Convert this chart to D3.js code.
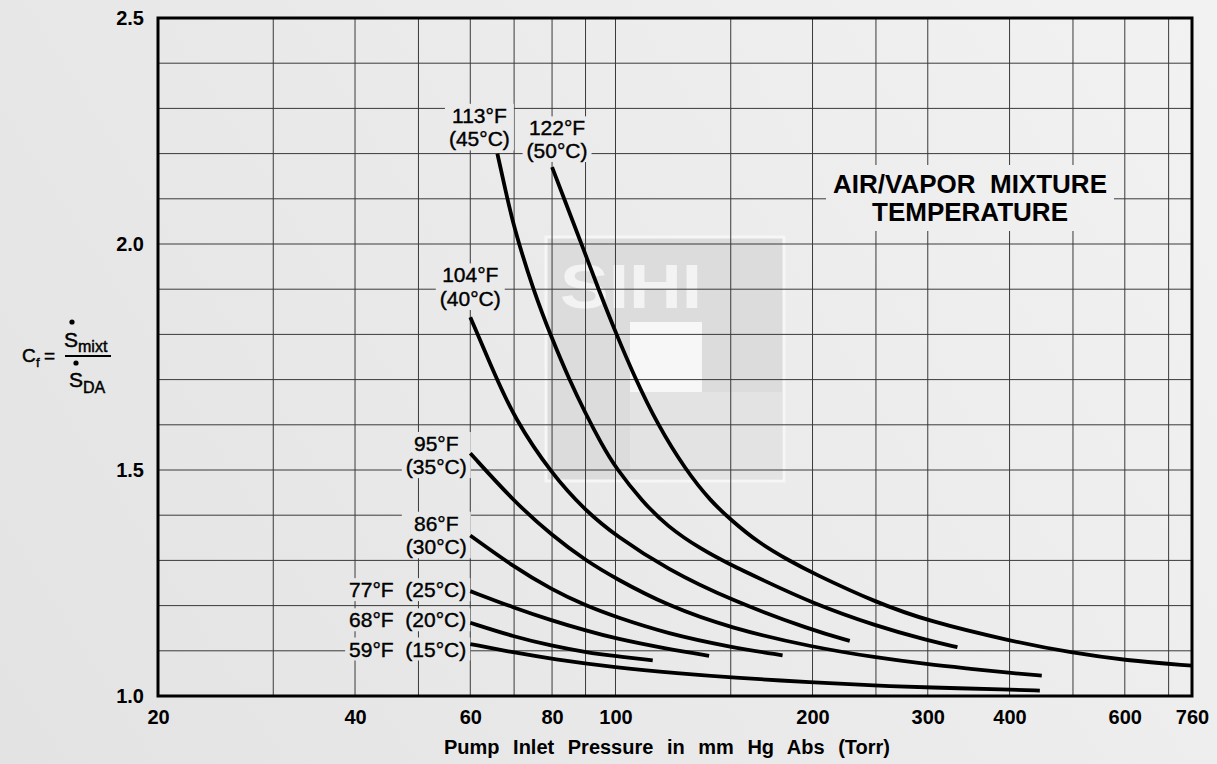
<!DOCTYPE html>
<html>
<head>
<meta charset="utf-8">
<script src="https://cdn.jsdelivr.net/npm/d3@7"></script>
<style>
  html, body { margin: 0; padding: 0; background: #eaeaea; }
  svg { display: block; font-family: "Liberation Sans", Arial, Helvetica, sans-serif; }
</style>
</head>
<body>
<svg id="chart" width="1217" height="764"></svg>
<script>
// pump inlet pressure (torr) and Cf, one pair of arrays per temperature
var p59 = [60, 70, 80, 100, 125, 150, 200, 250, 300, 400, 445];
var c59 = [1.115, 1.096, 1.082, 1.063, 1.050, 1.041, 1.030, 1.023, 1.019, 1.014, 1.012];
var p68 = [60, 70, 80, 90, 100, 114];
var c68 = [1.162, 1.131, 1.111, 1.097, 1.088, 1.079];
var p77 = [60, 70, 80, 90, 100, 120, 139];
var c77 = [1.232, 1.195, 1.167, 1.145, 1.127, 1.104, 1.089];
var p86 = [60, 70, 80, 90, 100, 120, 150, 180];
var c86 = [1.355, 1.285, 1.235, 1.200, 1.175, 1.138, 1.108, 1.090];
var p95 = [60, 70, 80, 90, 100, 120, 150, 200, 250, 300, 350, 400, 448];
var c95 = [1.537, 1.430, 1.355, 1.300, 1.260, 1.200, 1.150, 1.108, 1.085, 1.070, 1.060, 1.051, 1.045];
var p104 = [60, 65, 70, 80, 90, 100, 120, 150, 200, 228];
var c104 = [1.838, 1.720, 1.615, 1.490, 1.410, 1.355, 1.280, 1.212, 1.145, 1.122];
var p113 = [66, 68, 70, 75, 80, 85, 90, 95, 100, 110, 120, 135, 150, 166, 200, 250, 300, 333];
var c113 = [2.20, 2.115, 2.035, 1.895, 1.79, 1.70, 1.625, 1.56, 1.505, 1.43, 1.375, 1.325, 1.29, 1.26, 1.205, 1.155, 1.123, 1.108];
var p122 = [80, 84, 89, 94.5, 100, 107, 116, 128, 140, 150, 165, 184, 200, 250, 300, 400, 500, 600, 760];
var c122 = [2.17, 2.09, 1.995, 1.895, 1.805, 1.705, 1.60, 1.50, 1.43, 1.39, 1.34, 1.30, 1.272, 1.207, 1.166, 1.122, 1.095, 1.079, 1.067];

var tempF = [59, 68, 77, 86, 95, 104, 113, 122];
var tempC = [15, 20, 25, 30, 35, 40, 45, 50];

var xTicks = [20, 40, 60, 80, 100, 200, 300, 400, 600, 760];
var xGrid = [30, 40, 50, 60, 70, 80, 90, 100, 150, 200, 250, 300, 400, 500, 600, 700];
var yTicks = [1.0, 1.5, 2.0, 2.5];
var yGrid = [1.1, 1.2, 1.3, 1.4, 1.5, 1.6, 1.7, 1.8, 1.9, 2.0, 2.1, 2.2, 2.3, 2.4];

var series = [
  [p59, c59], [p68, c68], [p77, c77], [p86, c86],
  [p95, c95], [p104, c104], [p113, c113], [p122, c122]
];

var svg = d3.select("#chart");

var x = d3.scaleLog().domain([20, 760]).range([158, 1192]);
var y = d3.scaleLinear().domain([1.0, 2.5]).range([696, 18]);

// background, light grey like the scanned sheet
var defs = svg.append("defs");
var grad = defs.append("linearGradient")
    .attr("id", "bg")
    .attr("gradientUnits", "userSpaceOnUse")
    .attr("x1", 0).attr("y1", 764).attr("x2", 1217).attr("y2", 0);
grad.append("stop").attr("offset", "0%").attr("stop-color", "#e3e3e3");
grad.append("stop").attr("offset", "55%").attr("stop-color", "#ebebeb");
grad.append("stop").attr("offset", "100%").attr("stop-color", "#f2f2f2");

svg.append("rect").attr("width", 1217).attr("height", 764).attr("fill", "url(#bg)");

// faint logo behind the grid
var logo = svg.append("g").attr("class", "logo");
logo.append("rect").attr("x", 546).attr("y", 237).attr("width", 238).attr("height", 244)
    .attr("fill", "#dcdcdc").attr("stroke", "#f6f6f6").attr("stroke-width", 3);
logo.append("rect").attr("x", 630).attr("y", 392).attr("width", 152).attr("height", 87)
    .attr("fill", "#e3e3e3");
logo.append("rect").attr("x", 630).attr("y", 322).attr("width", 72).attr("height", 70)
    .attr("fill", "#f7f7f7");
logo.append("text").attr("x", 560).attr("y", 308)
    .attr("font-size", 63).attr("font-weight", "bold")
    .attr("textLength", 142).attr("lengthAdjust", "spacingAndGlyphs")
    .attr("fill", "#f3f3f3").text("SIHI");

// grid
var grid = svg.append("g").attr("class", "grid")
    .attr("stroke", "#3a3a3a").attr("stroke-width", 1);
grid.selectAll(".vx").data(xGrid).enter().append("line")
    .attr("class", "vx")
    .attr("x1", function(d) { return x(d); }).attr("x2", function(d) { return x(d); })
    .attr("y1", y(2.5)).attr("y2", y(1.0));
grid.selectAll(".hy").data(yGrid).enter().append("line")
    .attr("class", "hy")
    .attr("x1", x(20)).attr("x2", x(760))
    .attr("y1", function(d) { return y(d); }).attr("y2", function(d) { return y(d); });

// curve labels, placed relative to the first point of each curve
var labelLayout = [
  { mode: "row", dx: -4, dy: [12.5] },
  { mode: "row", dx: -4, dy: [4.5] },
  { mode: "row", dx: -4, dy: [6] },
  { mode: "stack", dx: -34, dy: [-4.8, 18.8] },
  { mode: "stack", dx: -34, dy: [-2.3, 20.8] },
  { mode: "stack", dx: 0, dy: [-34.8, -11.2] },
  { mode: "stack", dx: -18, dy: [-30.8, -7.2] },
  { mode: "stack", dx: 5, dy: [-31.8, -9.2] }
];

var labelBg = svg.append("g").attr("class", "label-bg");
var labels = svg.append("g").attr("class", "labels")
    .attr("font-size", 21).attr("fill", "#000")
    .attr("stroke", "#000").attr("stroke-width", 0.4);

series.forEach(function(s, i) {
  var sx = x(s[0][0]), sy = y(s[1][0]);
  var L = labelLayout[i];
  var fTxt = tempF[i] + "°F", cTxt = "(" + tempC[i] + "°C)";
  var t = labels.append("text").attr("xml:space", "preserve");
  if (L.mode === "row") {
    t.attr("x", sx + L.dx).attr("y", sy + L.dy[0])
        .attr("text-anchor", "end").text(fTxt + "  " + cTxt);
  } else {
    t.attr("text-anchor", "middle");
    t.append("tspan").attr("x", sx + L.dx).attr("y", sy + L.dy[0]).text(fTxt);
    t.append("tspan").attr("x", sx + L.dx).attr("y", sy + L.dy[1]).text(cTxt);
  }
  var b = t.node().getBBox();
  labelBg.append("rect")
      .attr("x", b.x - 4).attr("y", b.y)
      .attr("width", b.width + 8).attr("height", b.height)
      .attr("fill", "url(#bg)");
});

// chart title box
var title = svg.append("text").attr("class", "title")
    .attr("font-size", 26).attr("font-weight", "bold")
    .attr("text-anchor", "middle").attr("xml:space", "preserve");
title.append("tspan").attr("x", 970).attr("y", 193).text("AIR/VAPOR  MIXTURE");
title.append("tspan").attr("x", 970).attr("y", 221).text("TEMPERATURE");
var tb = title.node().getBBox();
svg.insert("rect", ".title")
    .attr("x", tb.x - 7).attr("y", tb.y - 4)
    .attr("width", tb.width + 14).attr("height", tb.height + 8)
    .attr("fill", "url(#bg)");

// curves
var line = d3.line()
    .x(function(d) { return x(d[0]); })
    .y(function(d) { return y(d[1]); })
    .curve(d3.curveBasis);

svg.append("g").attr("class", "curves")
  .selectAll("path")
  .data(series.map(function(s) { return d3.zip(s[0], s[1]); }))
  .enter().append("path")
    .attr("d", line)
    .attr("fill", "none")
    .attr("stroke", "#000")
    .attr("stroke-width", 3.8)
    .attr("stroke-linecap", "butt");

// frame
svg.append("rect")
    .attr("x", x(20)).attr("y", y(2.5))
    .attr("width", x(760) - x(20)).attr("height", y(1.0) - y(2.5))
    .attr("fill", "none").attr("stroke", "#000").attr("stroke-width", 3);

// axes
var xAxis = d3.axisBottom(x).tickValues(xTicks).tickSize(0).tickPadding(14)
    .tickFormat(d3.format("d"));
var gx = svg.append("g").attr("transform", "translate(0," + y(1.0) + ")").call(xAxis);
gx.select(".domain").remove();
gx.selectAll("text").attr("font-size", 20).attr("font-weight", "bold")
    .attr("fill", "#000").attr("font-family", null);

var yAxis = d3.axisLeft(y).tickValues(yTicks).tickSize(0).tickPadding(14)
    .tickFormat(d3.format(".1f"));
var gy = svg.append("g").attr("transform", "translate(" + x(20) + ",0)").call(yAxis);
gy.select(".domain").remove();
gy.selectAll("text").attr("font-size", 20).attr("font-weight", "bold")
    .attr("fill", "#000").attr("font-family", null);

svg.append("text")
    .attr("x", 667).attr("y", 754)
    .attr("text-anchor", "middle")
    .attr("font-size", 20).attr("font-weight", "bold")
    .attr("word-spacing", 8)
    .text("Pump Inlet Pressure in mm Hg Abs (Torr)");

// y axis label: Cf = S_mixt / S_DA with dots over S
var ylab = svg.append("g").attr("class", "ylabel")
    .attr("fill", "#000").attr("stroke", "#000").attr("stroke-width", 0.45);
ylab.append("text").attr("x", 22).attr("y", 362).attr("font-size", 19).text("C");
ylab.append("text").attr("x", 36).attr("y", 367).attr("font-size", 13).text("f");
ylab.append("text").attr("x", 44).attr("y", 362).attr("font-size", 19).text("=");
ylab.append("text").attr("x", 64).attr("y", 347).attr("font-size", 21).text("S");
ylab.append("text").attr("x", 78).attr("y", 352).attr("font-size", 16).text("mixt");
ylab.append("line").attr("x1", 65).attr("x2", 111).attr("y1", 356).attr("y2", 356)
    .attr("stroke-width", 2.2);
ylab.append("text").attr("x", 69).attr("y", 387).attr("font-size", 21).text("S");
ylab.append("text").attr("x", 83).attr("y", 393).attr("font-size", 16).text("DA");
ylab.append("circle").attr("cx", 72).attr("cy", 322).attr("r", 2.6).attr("stroke", "none");
ylab.append("circle").attr("cx", 76).attr("cy", 363).attr("r", 2.6).attr("stroke", "none");
</script>
</body>
</html>
